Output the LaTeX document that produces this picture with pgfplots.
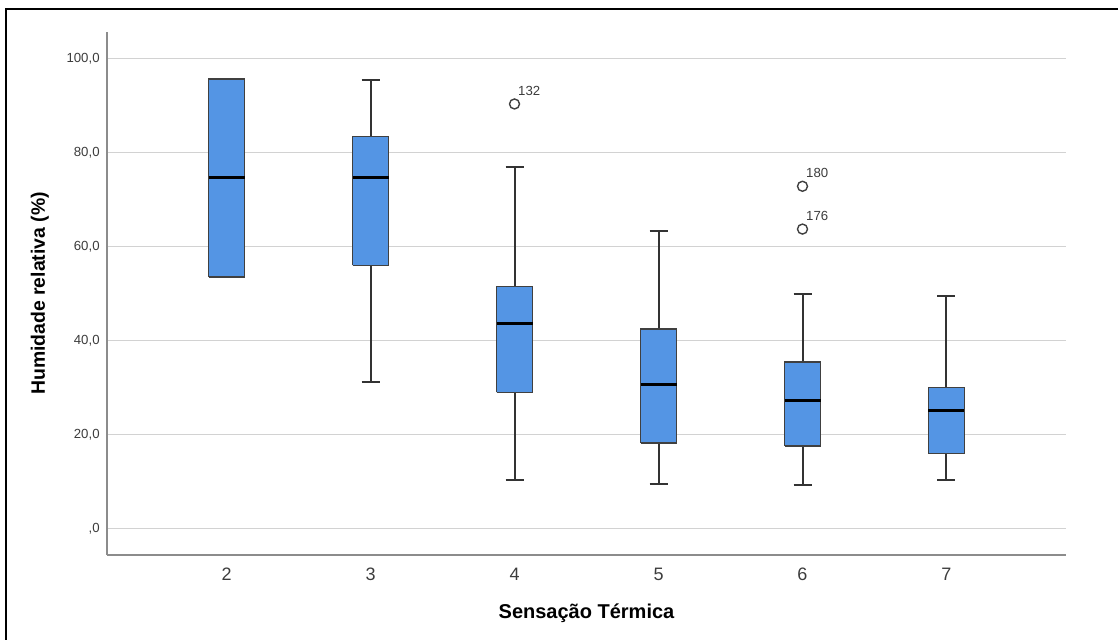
\documentclass[border=0pt]{standalone}
\usepackage{fontspec}
\setmainfont{Liberation Sans}
\usepackage{pgfplots}
\pgfplotsset{compat=1.18}
\definecolor{boxblue}{RGB}{84,149,228}
\definecolor{gridgray}{RGB}{210,210,210}
\definecolor{spinegray}{RGB}{140,140,140}
\definecolor{txtgray}{RGB}{60,60,60}
% #1 centre, #2/#3 box left/right, #4/#5 cap left/right,
% #6 lower whisker, #7 Q1, #8 median, #9 Q3, upper whisker in \bxmax
\newcommand{\bxp}[9]{%
  \addplot[wh] coordinates {(#4,\bxmax) (#5,\bxmax) (#1,nan) (#1,\bxmax) (#1,#9) (#1,nan) (#1,#7) (#1,#6) (#1,nan) (#4,#6) (#5,#6)};
  \addplot[bxs] coordinates {(#2,#7) (#3,#7) (#3,#9) (#2,#9) (#2,#7)};
  \addplot[med] coordinates {(#2,#8) (#3,#8)};
}
\begin{document}
\begin{tikzpicture}
\path[use as bounding box] (-53.5pt,-42pt) rectangle (505.5pt,277.5pt);
\draw[line width=1.1pt,black] (-50.5pt,-45pt) -- (-50.5pt,273pt) -- (510pt,273pt);
\begin{axis}[
  scale only axis, width=479.5pt, height=261.5pt,
  xmin=1.17, xmax=7.83, ymin=-5.6, ymax=105.6,
  axis x line*=bottom, axis y line*=left,
  axis line style={-, spinegray, line width=1pt},
  xtick={2,3,4,5,6,7}, xticklabels={2,3,4,5,6,7},
  ytick={0,20,40,60,80,100},
  yticklabels={{,0},{20,0},{40,0},{60,0},{80,0},{100,0}},
  major tick length=0pt,
  ymajorgrids, grid style={gridgray, line width=0.8pt},
  yticklabel style={font=\fontsize{6.6}{8}\selectfont, text=txtgray, inner sep=0pt, xshift=-3.5pt},
  xticklabel style={font=\fontsize{9}{10}\selectfont, text=txtgray, inner sep=0pt, anchor=north, yshift=-6.5pt},
  xlabel={Sensação Térmica},
  ylabel={Humidade relativa (\%)},
  x label style={font=\bfseries\fontsize{10}{12}\selectfont, at={(axis description cs:0.5,-0.111)}, anchor=center},
  y label style={font=\bfseries\fontsize{9.7}{12}\selectfont, at={(axis description cs:-0.0699,0.5)}, anchor=center},
  unbounded coords=jump,
  wh/.style={draw=black!80, line width=1pt, mark=none, solid},
  bxs/.style={draw=black!75, fill=boxblue, line width=0.75pt, mark=none, solid, line join=miter},
  med/.style={draw=black, line width=1.5pt, mark=none, solid},
]
\def\bxmax{95.6}\bxp{2}{1.875}{2.125}{1.9375}{2.0625}{53.5}{53.5}{74.7}{95.6}
\def\bxmax{95.3}\bxp{3}{2.875}{3.125}{2.9375}{3.0625}{31.2}{56.0}{74.7}{83.4}
\def\bxmax{77.0}\bxp{4}{3.875}{4.125}{3.9375}{4.0625}{10.4}{29.0}{43.6}{51.5}
\def\bxmax{63.2}\bxp{5}{4.875}{5.125}{4.9375}{5.0625}{9.6}{18.2}{30.6}{42.5}
\def\bxmax{50.0}\bxp{6}{5.875}{6.125}{5.9375}{6.0625}{9.3}{17.6}{27.2}{35.4}
\def\bxmax{49.5}\bxp{7}{6.875}{7.125}{6.9375}{7.0625}{10.4}{16.0}{25.2}{30.0}
\addplot[only marks, mark=o, mark size=2.5pt, mark options={draw=black!75, line width=0.7pt},
  nodes near coords, point meta=explicit symbolic,
  every node near coord/.style={anchor=south west, inner sep=0pt, xshift=1.5pt, yshift=4pt, font=\fontsize{6.6}{8}\selectfont, text=txtgray}]
  coordinates {(4,90.3)[132] (6,72.8)[180] (6,63.7)[176]};
\end{axis}
\end{tikzpicture}
\end{document}
